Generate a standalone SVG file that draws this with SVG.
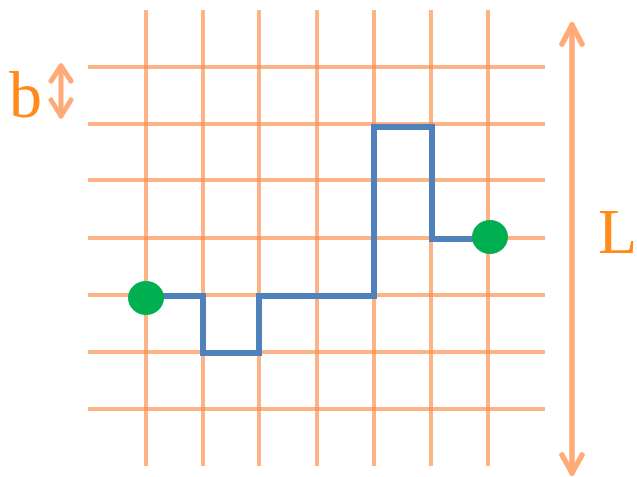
<svg xmlns="http://www.w3.org/2000/svg" width="637" height="477" viewBox="0 0 637 477">
<style>
.grid line{stroke:#FB8B45;stroke-opacity:0.65;stroke-width:4}
.arr{stroke:#FFAA78;fill:none;stroke-linecap:round;stroke-linejoin:round}
.lbl{font-family:"Liberation Serif",serif;fill:#FF8C1A}
</style>
<rect width="637" height="477" fill="#fff"/>
<g id="grid" class="grid">
<line x1="146" y1="10" x2="146" y2="466"/>
<line x1="203" y1="10" x2="203" y2="466"/>
<line x1="259" y1="10" x2="259" y2="466"/>
<line x1="317" y1="10" x2="317" y2="466"/>
<line x1="374" y1="10" x2="374" y2="466"/>
<line x1="431" y1="10" x2="431" y2="466"/>
<line x1="488" y1="10" x2="488" y2="466"/>
<line x1="88" y1="67" x2="545" y2="67"/>
<line x1="88" y1="124" x2="545" y2="124"/>
<line x1="88" y1="180" x2="545" y2="180"/>
<line x1="88" y1="238" x2="545" y2="238"/>
<line x1="88" y1="295" x2="545" y2="295"/>
<line x1="88" y1="352" x2="545" y2="352"/>
<line x1="88" y1="409" x2="545" y2="409"/>
</g>
<g id="connectors">
<path id="walk" d="M146,296 H203 V353 H259 V296 H374 V127 H432 V239 H488" fill="none" stroke="#4F81BD" stroke-width="6"/>
<g id="arrow-L" class="arr" stroke-width="5.5">
<line x1="572" y1="25" x2="572" y2="473"/>
<polyline points="562,44 572,25 582,44"/>
<polyline points="562,455 572,473 582,455"/>
</g>
<g id="arrow-b" class="arr" stroke-width="5">
<line x1="61" y1="66" x2="61" y2="116"/>
<polyline points="51,81 61,66 71,81"/>
<polyline points="51,100 61,116 71,100"/>
</g>
</g>
<g id="start"><ellipse cx="146" cy="298" rx="18" ry="17" fill="#00B050"/></g>
<g id="end"><ellipse cx="490" cy="237" rx="18" ry="17" fill="#00B050"/></g>
<g id="label-b"><text class="lbl" x="9" y="117" font-size="66">b</text></g>
<g id="label-L"><text class="lbl" x="598" y="253" font-size="64">L</text></g>
</svg>
